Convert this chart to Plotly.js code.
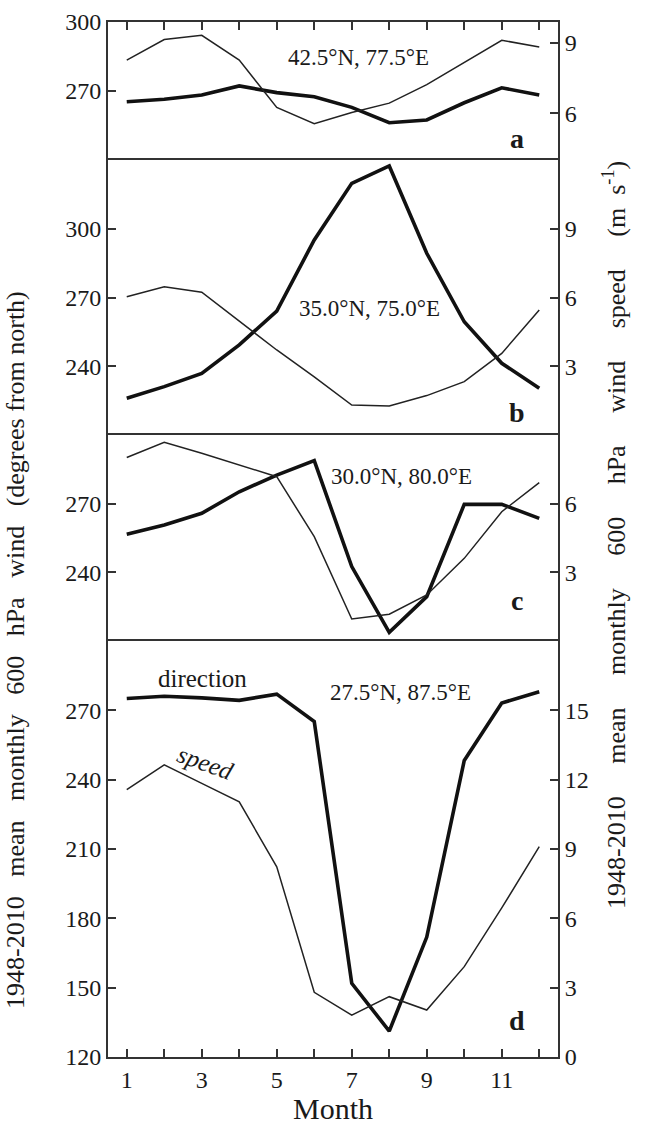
<!DOCTYPE html>
<html>
<head>
<meta charset="utf-8">
<script src="https://cdn.plot.ly/plotly-3.0.1.min.js"></script>
<style>html,body{margin:0;padding:0;background:#fff;}#chart{width:645px;height:1128px;}</style>
</head>
<body>
<div id="chart"></div>
<script>
// Months
const months = [1,2,3,4,5,6,7,8,9,10,11,12];
const monthTicks = [1,2,3,4,5,6,7,8,9,10,11,12];

// Panel a: 42.5N, 77.5E
const dirA = [265.3, 266.4, 268.3, 272.2, 269.3, 267.5, 262.9, 256.2, 257.4, 264.9, 271.4, 268.3];
const spdA = [8.27, 9.15, 9.33, 8.27, 6.25, 5.55, 6.03, 6.43, 7.22, 8.17, 9.12, 8.83];
// Panel b: 35.0N, 75.0E
const dirB = [226.0, 231.1, 236.9, 249.3, 264.1, 295.1, 319.8, 327.4, 289.3, 259.4, 241.3, 230.4];
const spdB = [6.03, 6.47, 6.23, 4.97, 3.71, 2.54, 1.31, 1.27, 1.72, 2.33, 3.56, 5.45];
// Panel c: 30.0N, 80.0E
const dirC = [256.6, 260.7, 265.8, 275.2, 282.5, 288.8, 242.5, 213.8, 229.4, 269.7, 269.7, 263.6];
const spdC = [8.02, 8.68, 8.2, 7.69, 7.18, 4.56, 0.96, 1.17, 2.01, 3.61, 5.65, 6.92];
// Panel d: 27.5N, 87.5E
const dirD = [275.1, 276.1, 275.4, 274.3, 277.0, 265.2, 151.9, 131.2, 171.9, 248.3, 273.2, 278.0];
const spdD = [11.57, 12.64, 11.84, 11.04, 8.23, 2.8, 1.81, 2.61, 2.03, 3.91, 6.45, 9.1];

// Tick values per panel
const leftTicksA = [270, 300], rightTicksA = [6, 9];
const leftTicksB = [240, 270, 300], rightTicksB = [3, 6, 9];
const leftTicksC = [240, 270], rightTicksC = [3, 6];
const leftTicksD = [120, 150, 180, 210, 240, 270], rightTicksD = [0, 3, 6, 9, 12, 15];

const locations = ['42.5°N, 77.5°E', '35.0°N, 75.0°E', '30.0°N, 80.0°E', '27.5°N, 87.5°E'];
const panelLetters = ['a', 'b', 'c', 'd'];

const FONT = 'Liberation Serif, Times New Roman, serif';
const INK = '#1a1a1a';
const AX = '#333';

const thick = {color: '#111', width: 3.6};
const thin = {color: '#222', width: 1.5};

const traces = [
  {x: months, y: dirA, xaxis: 'x',  yaxis: 'y',  mode: 'lines', line: thick},
  {x: months, y: spdA, xaxis: 'x',  yaxis: 'y5', mode: 'lines', line: thin},
  {x: months, y: dirB, xaxis: 'x2', yaxis: 'y2', mode: 'lines', line: thick},
  {x: months, y: spdB, xaxis: 'x2', yaxis: 'y6', mode: 'lines', line: thin},
  {x: months, y: dirC, xaxis: 'x3', yaxis: 'y3', mode: 'lines', line: thick},
  {x: months, y: spdC, xaxis: 'x3', yaxis: 'y7', mode: 'lines', line: thin},
  {x: months, y: dirD, xaxis: 'x4', yaxis: 'y4', mode: 'lines', line: thick},
  {x: months, y: spdD, xaxis: 'x4', yaxis: 'y8', mode: 'lines', line: thin}
];

const H = 1035;
const dD = [0, 416 / H];
const dC = [416 / H, 622 / H];
const dB = [622 / H, 897 / H];
const dA = [897 / H, 1];

const tickFont = {family: FONT, size: 24, color: INK};

function yLeft(domain, range, tv, anchor) {
  return {domain: domain, range: range, tickvals: tv, ticks: 'inside', ticklen: 8, tickwidth: 2,
    tickcolor: AX, showline: true, linewidth: 2, linecolor: AX, showgrid: false, zeroline: false,
    tickfont: tickFont, anchor: anchor, fixedrange: true};
}
function yRight(overlay, range, tv, anchor) {
  return {overlaying: overlay, side: 'right', range: range, tickvals: tv, ticks: 'inside', ticklen: 8,
    tickwidth: 2, tickcolor: AX, showline: true, linewidth: 2, linecolor: AX, showgrid: false,
    zeroline: false, tickfont: tickFont, anchor: anchor, fixedrange: true};
}
function xPanel(anchor, side, extra) {
  return Object.assign({anchor: anchor, side: side, range: [0.5, 12.5], domain: [0, 1], showline: true,
    linewidth: 2, linecolor: AX, showgrid: false, zeroline: false, ticks: '', showticklabels: false,
    fixedrange: true}, extra || {});
}

const annFont = {family: FONT, size: 23, color: INK};
const letterFont = {family: FONT, size: 28, color: INK, weight: 'bold'};
const px = v => (v - 108) / 450;       // horizontal pixel -> paper
const py = v => (1057 - v) / H;        // vertical pixel -> paper

const locPos = [[358, 57], [369, 308], [401, 477], [400, 692]];
const annotations = locations.map((t, i) => ({xref: 'paper', yref: 'paper', x: px(locPos[i][0]), y: py(locPos[i][1]),
  text: t, showarrow: false, font: annFont, xanchor: 'center', yanchor: 'middle'}));

const letterY = [138, 412, 600, 1020];
panelLetters.forEach((l, i) => {
  annotations.push({xref: 'paper', yref: 'paper', x: px(517), y: py(letterY[i]),
    text: '<b>' + l + '</b>', showarrow: false, font: letterFont, xanchor: 'center', yanchor: 'middle'});
});

annotations.push({xref: 'paper', yref: 'paper', x: px(202), y: py(678),
  text: 'direction', showarrow: false, font: {family: FONT, size: 25, color: INK}, xanchor: 'center', yanchor: 'middle'});
annotations.push({xref: 'paper', yref: 'paper', x: px(205), y: py(762),
  text: '<i>speed</i>', showarrow: false, textangle: 20, font: {family: FONT, size: 25, color: INK}, xanchor: 'center', yanchor: 'middle'});

// axis titles
const G3 = '\u00a0\u00a0 ';
const G5 = '\u00a0\u00a0\u00a0\u00a0 ';
annotations.push({xref: 'paper', yref: 'paper', x: px(15), y: py(650),
  text: ['1948-2010', 'mean', 'monthly', '600', 'hPa', 'wind', '(degrees from north)'].join(G3),
  textangle: -90, showarrow: false, font: {family: FONT, size: 26, color: INK}, xanchor: 'center', yanchor: 'middle'});
annotations.push({xref: 'paper', yref: 'paper', x: px(614), y: py(535),
  text: ['1948-2010', 'mean', 'monthly', '600', 'hPa', 'wind', 'speed', '(m\u00a0 s<sup>-1</sup>)'].join(G5),
  textangle: -90, showarrow: false, font: {family: FONT, size: 26, color: INK}, xanchor: 'center', yanchor: 'middle'});
annotations.push({xref: 'paper', yref: 'paper', x: px(333), y: py(1127),
  text: 'Month', showarrow: false, font: {family: FONT, size: 30, color: INK}, xanchor: 'center', yanchor: 'bottom'});

const layout = {
  width: 645, height: 1128,
  margin: {l: 108, r: 87, t: 22, b: 71, pad: 0},
  paper_bgcolor: '#fff', plot_bgcolor: '#fff',
  showlegend: false,
  font: {family: FONT, color: INK},
  xaxis: xPanel('y', 'top', {ticks: 'inside', ticklen: 8, tickwidth: 2, tickcolor: AX, tickvals: monthTicks}),
  xaxis2: xPanel('y2', 'top'),
  xaxis3: xPanel('y3', 'top'),
  xaxis4: xPanel('y4', 'bottom', {mirror: true, ticks: 'inside', ticklen: 8, tickwidth: 2, tickcolor: AX,
    tickmode: 'linear', tick0: 1, dtick: 2, showticklabels: true, tickfont: tickFont,
    minor: {ticks: 'inside', tick0: 1, dtick: 1, ticklen: 8, tickwidth: 2, tickcolor: AX, showgrid: false}}),
  yaxis: yLeft(dA, [240, 300.01], leftTicksA, 'x'),
  yaxis2: yLeft(dB, [210, 330], leftTicksB, 'x2'),
  yaxis3: yLeft(dC, [210, 300], leftTicksC, 'x3'),
  yaxis4: yLeft(dD, [120, 300], leftTicksD, 'x4'),
  yaxis5: yRight('y', [4.0, 9.9], rightTicksA, 'x'),
  yaxis6: yRight('y2', [0, 12], rightTicksB, 'x2'),
  yaxis7: yRight('y3', [0, 9], rightTicksC, 'x3'),
  yaxis8: yRight('y4', [0, 18], rightTicksD, 'x4'),
  annotations: annotations
};

Plotly.newPlot('chart', traces, layout, {staticPlot: true, displayModeBar: false});
</script>
</body>
</html>
